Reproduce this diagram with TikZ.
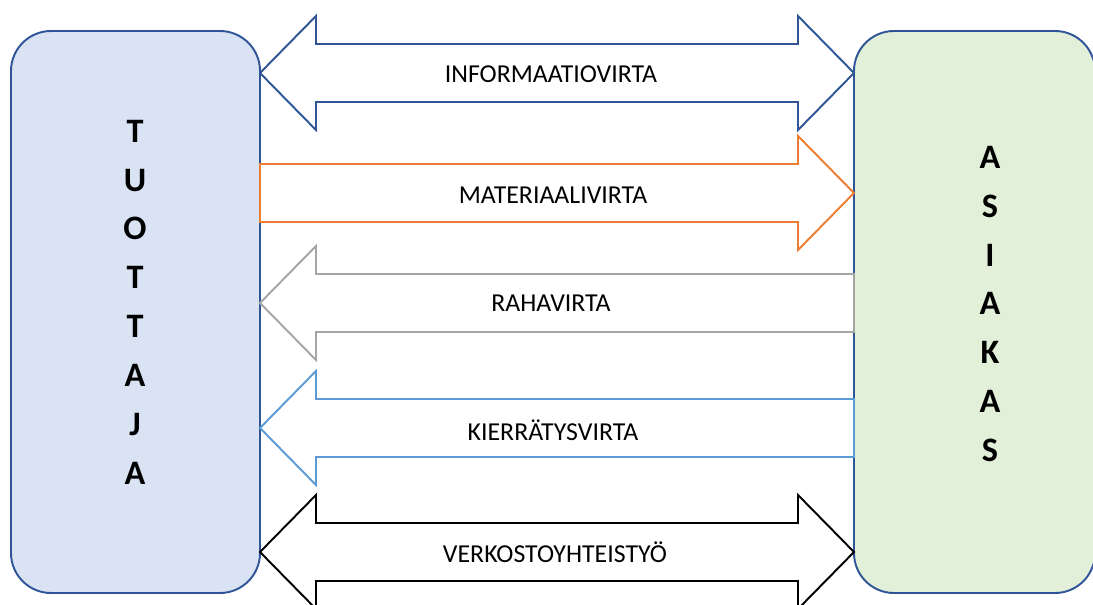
\documentclass[tikz,border=0pt]{standalone}
\usepackage{fontspec}
\setmainfont{Carlito}
\usetikzlibrary{positioning}

\definecolor{edgeblue}{HTML}{2F5597}
\definecolor{fillblue}{HTML}{DAE3F3}
\definecolor{fillgreen}{HTML}{E2F0D9}
\definecolor{floworange}{HTML}{ED7D31}
\definecolor{flowgray}{HTML}{A5A5A5}
\definecolor{flowblue}{HTML}{5B9BD5}

\begin{document}
\begin{tikzpicture}[x=0.02cm, y=-0.02cm,
    party/.style={rectangle, draw=edgeblue, line width=1.1pt, rounded corners=0.8cm, minimum height=562*0.02cm},
    letters/.style={align=center, font=\bfseries\fontsize{19.5}{27.8}\selectfont},
    flow/.style={line width=1.1pt, fill=white, line join=miter},
    flowtext/.style={font=\fontsize{14.7}{16}\selectfont}]
    \useasboundingbox (0,0) rectangle (1093,605);
    \clip (0,0) rectangle (1093,605);

    \node[party, fill=fillblue, minimum width=249*0.02cm] (tuottaja) at (135.5,312) {};
    \node[party, fill=fillgreen, minimum width=241*0.02cm] (asiakas) at (974.5,312) {};
    \node[letters] (tuottajateksti) at (135,302) {T\\U\\O\\T\\T\\A\\J\\A};
    \node[letters] (asiakasteksti) at (990,304) {A\\S\\I\\A\\K\\A\\S};

    \draw[flow, draw=edgeblue] (260,73) -- (316,16) -- (316,44) -- (798,44) -- (798,16) -- (854,73)
        -- (798,130) -- (798,102) -- (316,102) -- (316,130) -- cycle;
    \draw[flow, draw=floworange] (260,164) -- (798,164) -- (798,136) -- (854,193) -- (798,250)
        -- (798,222) -- (260,222) -- cycle;
    \draw[flow, draw=flowgray] (854,274) -- (316,274) -- (316,246) -- (260,303) -- (316,360)
        -- (316,332) -- (854,332) -- cycle;
    \draw[flow, draw=flowblue] (854,399) -- (316,399) -- (316,371) -- (260,428) -- (316,485)
        -- (316,457) -- (854,457) -- cycle;
    \draw[flow, draw=black] (260,552) -- (316,495) -- (316,523) -- (798,523) -- (798,495) -- (854,552)
        -- (798,609) -- (798,581) -- (316,581) -- (316,609) -- cycle;

    \node[flowtext] (informaatio) at (551,74) {INFORMAATIOVIRTA};
    \node[flowtext] (materiaali) at (553,195) {MATERIAALIVIRTA};
    \node[flowtext] (raha) at (551,303) {RAHAVIRTA};
    \node[flowtext] (kierratys) at (553,430) {KIERRÄTYSVIRTA};
    \node[flowtext] (verkosto) at (555,552) {VERKOSTOYHTEISTYÖ};
\end{tikzpicture}
\end{document}
